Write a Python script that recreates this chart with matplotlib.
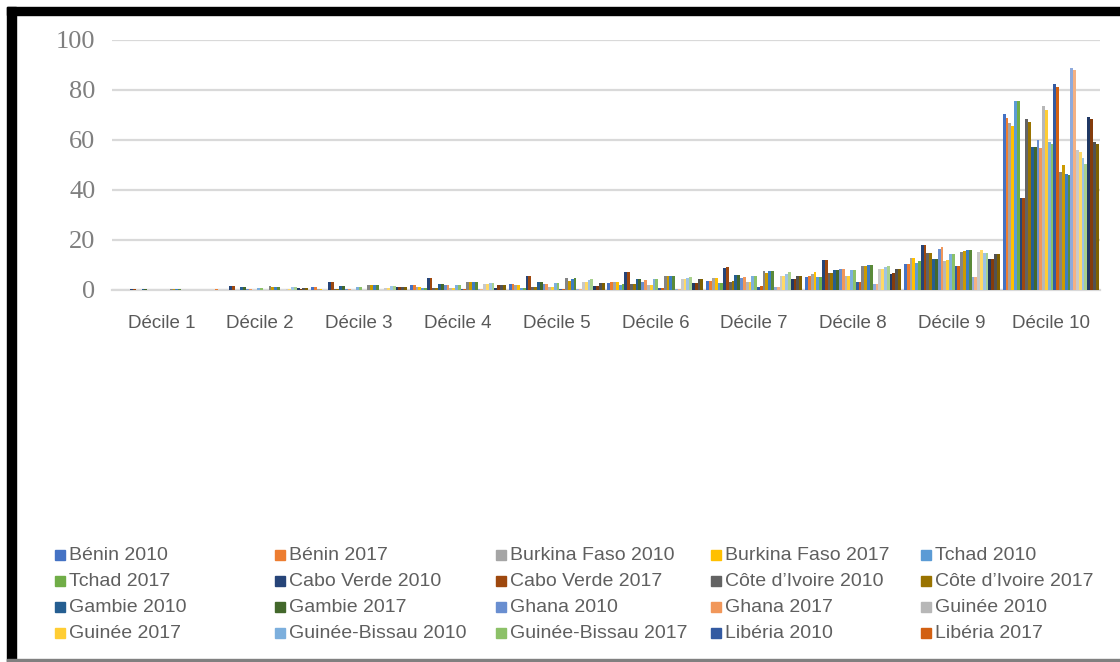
"""Part du revenu par décile, pays d'Afrique de l'Ouest, 2010 et 2017."""

import matplotlib.pyplot as plt
import numpy as np
from matplotlib.patches import Rectangle

W, H = 1120, 662

deciles = ["Décile 1", "Décile 2", "Décile 3", "Décile 4", "Décile 5",
           "Décile 6", "Décile 7", "Décile 8", "Décile 9", "Décile 10"]

series = [
    "Bénin 2010", "Bénin 2017", "Burkina Faso 2010", "Burkina Faso 2017", "Tchad 2010",
    "Tchad 2017", "Cabo Verde 2010", "Cabo Verde 2017", "Côte d’Ivoire 2010", "Côte d’Ivoire 2017",
    "Gambie 2010", "Gambie 2017", "Ghana 2010", "Ghana 2017", "Guinée 2010",
    "Guinée 2017", "Guinée-Bissau 2010", "Guinée-Bissau 2017", "Libéria 2010", "Libéria 2017",
    # the remaining series are drawn but cut off from the legend in the source
    "Mali 2010", "Mali 2017", "Mauritanie 2010", "Mauritanie 2017", "Niger 2010",
    "Niger 2017", "Nigeria 2010", "Nigeria 2017", "Sénégal 2010", "Sénégal 2017",
    "Sierra Leone 2010", "Sierra Leone 2017", "Togo 2010", "Togo 2017",
]
n_legend = 20

# one list per decile, one value per series (same order as `series`)
decile_1 = [0, 0, 0, 0, 0, 0, 0.3, 0.3, 0, 0, 0.6, 0.6, 0, 0, 0, 0, 0, 0, 0, 0,
            0.6, 0.6, 0.6, 0.6, 0, 0, 0, 0, 0, 0, 0, 0, 0, 0]
decile_2 = [0, 0.4, 0, 0, 0, 0, 1.8, 1.8, 0, 0, 1.2, 1.2, 0.5, 0.5, 0, 0, 0.7, 0.7, 0, 0,
            1.8, 1.2, 1.2, 1.2, 0, 0, 0.6, 0.6, 1.1, 1.1, 0.7, 0.4, 0.7, 0.7]
decile_3 = [1.2, 1.2, 0.6, 0.6, 0, 0, 3.2, 3.2, 0.3, 0.3, 1.8, 1.8, 0.4, 0.6, 0, 0, 1.2, 1.2, 0, 0,
            2.2, 2.2, 2.2, 2.2, 0, 0, 0.9, 0.9, 1.8, 1.8, 1.1, 1.1, 1.1, 1.1]
decile_4 = [1.9, 1.9, 1.2, 1.2, 0.8, 0.8, 4.7, 4.7, 0.9, 0.9, 2.3, 2.3, 1.9, 1.9, 0.9, 0.9, 1.9, 1.9, 0.3, 0.3,
            3.2, 3.2, 3.2, 3.2, 0.3, 0.3, 2.5, 2.5, 2.9, 2.9, 0.9, 1.9, 1.9, 1.9]
decile_5 = [2.3, 2.3, 1.9, 1.9, 0.8, 0.8, 5.6, 5.6, 1.2, 1.2, 3.2, 3.2, 2.3, 2.3, 1.2, 1.2, 2.7, 2.7, 0.4, 0.4,
            4.7, 3.5, 4.3, 4.7, 0.3, 0.3, 3.2, 3.2, 3.9, 4.3, 1.6, 1.6, 2.7, 2.7]
decile_6 = [2.7, 3.2, 3.2, 3.2, 2.1, 2.5, 7.3, 7.3, 2.5, 2.5, 4.3, 4.3, 3.2, 3.9, 2.1, 2.1, 4.3, 4.3, 0.9, 0.9,
            5.6, 5.6, 5.6, 5.6, 0.5, 0.5, 4.3, 4.3, 4.7, 5.1, 2.7, 2.7, 4.3, 4.3]
decile_7 = [3.6, 3.6, 4.7, 4.7, 2.7, 2.7, 8.7, 9.2, 3.2, 3.6, 6.1, 6.1, 4.7, 5.2, 3.2, 3.2, 5.6, 5.6, 1.3, 1.5,
            7.6, 6.7, 7.6, 7.6, 1.2, 1.2, 5.6, 5.6, 6.5, 7.2, 4.3, 4.3, 5.6, 5.6]
decile_8 = [5.2, 5.8, 6.5, 7.2, 5.2, 5.2, 12, 12, 6.7, 6.7, 8, 8, 8.5, 8.5, 5.6, 5.6, 8, 8, 3.2, 3.2,
            9.6, 9.6, 9.9, 9.9, 2.3, 2.3, 8.5, 8.5, 9.2, 9.6, 6.3, 6.9, 8.3, 8.3]
decile_9 = [10.5, 10.5, 12.9, 12.9, 10.9, 11.6, 17.9, 17.9, 14.9, 14.9, 12.5, 12.5, 16.5, 17.3, 11.6, 12,
            14.3, 14.3, 9.6, 9.6, 15.4, 15.6, 15.9, 15.9, 5.1, 5.1, 15.4, 15.9, 15, 15, 12.5, 12.5, 14.3, 14.3]
decile_10 = [70.3, 69, 67, 65.6, 75.6, 75.6, 37, 37, 68.3, 67.4, 57.3, 57.3, 59.9, 57, 73.6, 71.9,
             59.3, 58.3, 82.3, 81.3, 47.3, 50, 46.5, 46, 88.7, 88, 55.9, 55.3, 52.9, 50.5, 69.2, 68.3, 59.3, 58.3]

colors = [
    "#4472C4", "#ED7D31", "#A5A5A5", "#FFC000", "#5B9BD5", "#70AD47",
    "#264478", "#9E480E", "#636363", "#997300", "#255E91", "#43682B",
    "#698ED0", "#F1975A", "#B7B7B7", "#FFCD33", "#7CAFDD", "#8CC168",
    "#335AA1", "#D26012", "#848484", "#CC9A00", "#3C7DC4", "#5A8A39",
    "#8FAADC", "#F4B183", "#C9C9C9", "#FFD966", "#9DC3E6", "#A9D18E",
    "#203864", "#843C0C", "#525252", "#7F6000",
]

values = np.array([decile_1, decile_2, decile_3, decile_4, decile_5,
                   decile_6, decile_7, decile_8, decile_9, decile_10]).T

fig = plt.figure(figsize=(W / 100, H / 100), dpi=100)
ax = fig.add_axes([112 / W, 1 - 290 / H, (1100 - 112) / W, 250 / H])

n = len(series)
group = 0.97
bw = group / n
x = np.arange(len(deciles))
for i in range(n):
    ax.bar(x - group / 2 + (i + 0.5) * bw, values[i], width=bw,
           color=colors[i], label=series[i], zorder=3)

ax.set_xlim(-0.5, len(deciles) - 0.5)
ax.set_ylim(0, 100)
ax.set_yticks(range(0, 101, 20))
ax.set_xticks(x)
ax.set_xticklabels(deciles)
ax.grid(axis="y", color="#D9D9D9", linewidth=1.6, zorder=0)
for side in ("top", "right", "left"):
    ax.spines[side].set_visible(False)
ax.spines["bottom"].set_color("#D9D9D9")
ax.spines["bottom"].set_linewidth(1.6)
ax.tick_params(axis="both", length=0)
ax.tick_params(axis="y", pad=12)
ax.tick_params(axis="x", pad=18)
for lab in ax.get_yticklabels():
    lab.set_fontfamily("Liberation Serif")
    lab.set_fontsize(19)
    lab.set_color("#7F7F7F")
for lab in ax.get_xticklabels():
    lab.set_fontfamily("Liberation Sans")
    lab.set_fontsize(13.5)
    lab.set_color("#595959")

# legend laid out like the source: 5 columns, row by row
col_x = [55, 275, 496, 711, 921]
row_y = [555, 581, 607, 633]
for k in range(n_legend):
    r, c = divmod(k, 5)
    px, py = col_x[c], row_y[r]
    fig.add_artist(Rectangle((px / W, 1 - (py + 5) / H), 10 / W, 10 / H,
                             transform=fig.transFigure, color=colors[k]))
    fig.text((px + 14) / W, 1 - py / H, series[k], ha="left", va="center",
             fontsize=14, color="#5F5F5F", family="Liberation Sans")

# outer frame of the screenshot
fig.add_artist(Rectangle((7 / W, 0), 9 / W, 1 - 7 / H, transform=fig.transFigure,
                         color="black"))
fig.add_artist(Rectangle((7 / W, 1 - 15 / H), 1, 8 / H, transform=fig.transFigure,
                         color="black"))
fig.add_artist(Rectangle((7 / W, 1 - 661 / H), 1, 2 / H, transform=fig.transFigure,
                         color="#808080"))

fig.savefig("out.png", dpi=100)
plt.close(fig)
